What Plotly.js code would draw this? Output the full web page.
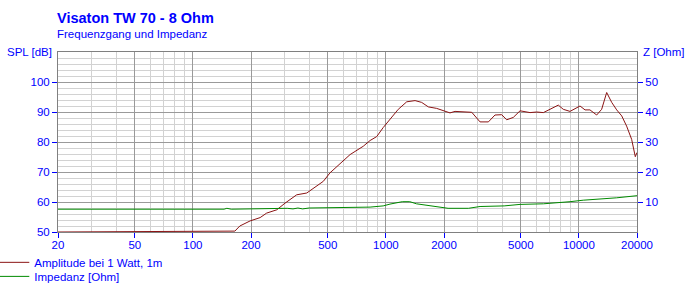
<!DOCTYPE html>
<html><head><meta charset="utf-8">
<script src="https://cdn.plot.ly/plotly-3.0.1.min.js"></script>
<style>html,body{margin:0;padding:0;background:#fff;}#chart{width:687px;height:285px;}</style>
</head><body><div id="chart"></div>
<script>
const freqSPL = [20,165,175,198,223,241,272,300,345,389,474,513,652,764,828,896,968,1050,1159,1282,1416,1532,1659,1833,2024,2148,2281,2623,2785,3075,3397,3675,3981,4225,4573,4955,5259,5583,6040,6545,7083,7820,8300,8991,10136,10760,11410,12360,13120,13930,14790,15700,16670,17670,18760,19600,20000];
const splDb = [50,50.3,52,53.7,54.8,56.3,57.4,59.6,62.4,63,66.9,69.7,75.8,78.6,80.5,81.8,84.8,87.6,90.9,93.4,93.8,93.2,91.7,91.2,90.2,89.7,90.2,90.1,89.9,86.7,86.7,89.0,89.1,87.4,88.2,90.4,90.2,89.8,90.0,89.8,90.9,92.3,90.9,90.2,92.0,90.7,90.7,89.0,90.9,96.5,93.2,90.7,88.7,85.3,80.9,75.1,76.5];
const freqImp = [20,145,150,158,308,330,350,370,400,766,828,968,1050,1216,1330,1440,1620,1833,2100,2680,3075,4100,4955,6545,7680,8991,10530,13430,15700,20000];
const impOhm = [7.6,7.6,7.9,7.6,7.9,7.7,8.0,7.7,8.0,8.2,8.3,8.7,9.3,10.1,10.1,9.4,9.0,8.4,7.9,7.9,8.5,8.7,9.2,9.4,9.7,10.1,10.6,11.0,11.4,12.1];
const xTicks = [20,50,100,200,500,1000,2000,5000,10000,20000];
const xMinor = [30,40,60,70,80,90,300,400,600,700,800,900,3000,4000,6000,7000,8000,9000];
const yTicksL = [50,60,70,80,90,100];
const yTicksR = [10,20,30,40,50];
const seriesNames = ["Amplitude bei 1 Watt, 1m","Impedanz [Ohm]"];
const titleText = "Visaton TW 70 - 8 Ohm";
const subtitleText = "Frequenzgang und Impedanz";

const F = "Liberation Sans, Arial, sans-serif";
const BLUE = "#0000ff";
const lg = x => Math.log10(x);

const traces = [
  {x: freqSPL, y: splDb, name: seriesNames[0], type: "scatter", mode: "lines",
   line: {color: "#8b1414", width: 1}, yaxis: "y", legend: "legend"},
  {x: freqImp, y: impOhm, name: seriesNames[1], type: "scatter", mode: "lines",
   line: {color: "#008a00", width: 1}, yaxis: "y2", legend: "legend2"}
];

const legStyle = {xanchor: "left", yanchor: "top", font: {family: F, size: 11.5, color: BLUE},
                  bgcolor: "rgba(0,0,0,0)", itemwidth: 30};

const layout = {
  width: 687, height: 285,
  margin: {l: 58, r: 50, t: 52, b: 53, autoexpand: false},
  paper_bgcolor: "#fff", plot_bgcolor: "#fff",
  font: {family: F, size: 11.5, color: BLUE},
  showlegend: true,
  legend: Object.assign({x: -0.11, y: -0.088}, legStyle),
  legend2: Object.assign({x: -0.11, y: -0.166}, legStyle),
  xaxis: {type: "log", range: [lg(20), lg(20000)], tickmode: "array",
          tickvals: xTicks, ticktext: xTicks.map(String),
          showgrid: true, gridcolor: "#9a9a9a", gridwidth: 1,
          ticks: "outside", ticklen: 5, tickcolor: BLUE, ticklabelstandoff: -3,
          showline: true, linecolor: "#808080", mirror: true, zeroline: false,
          tickfont: {family: F, size: 11.5, color: BLUE},
          minor: {tickvals: xMinor, showgrid: true, gridcolor: "#d2d2d2", ticks: ""}},
  yaxis: {range: [50, 110], tickmode: "array", tickvals: yTicksL,
          showgrid: true, gridcolor: "#9a9a9a",
          ticks: "outside", ticklen: 5, tickcolor: BLUE,
          showline: true, linecolor: "#808080", mirror: true, zeroline: false,
          tickfont: {family: F, size: 11.5, color: BLUE},
          minor: {dtick: 2, showgrid: true, gridcolor: "#d2d2d2", ticks: ""}},
  yaxis2: {range: [0, 60], overlaying: "y", side: "right", tickmode: "array",
           tickvals: yTicksR, showgrid: false, zeroline: false,
           ticks: "outside", ticklen: 5, tickcolor: BLUE,
           showline: true, linecolor: "#808080",
           tickfont: {family: F, size: 11.5, color: BLUE}},
  annotations: [
    {text: "<b>" + titleText + "</b>", xref: "paper", yref: "paper", x: 0, y: 1.19,
     xanchor: "left", yanchor: "middle", showarrow: false, xshift: -3,
     font: {family: F, size: 14.5, color: BLUE}},
    {text: subtitleText, xref: "paper", yref: "paper", x: 0, y: 1.1,
     xanchor: "left", yanchor: "middle", showarrow: false, xshift: -3,
     font: {family: F, size: 11.5, color: BLUE}},
    {text: "SPL [dB]", xref: "paper", yref: "paper", x: 0, y: 1.0,
     xanchor: "right", yanchor: "middle", showarrow: false, xshift: -4,
     font: {family: F, size: 11.5, color: BLUE}},
    {text: "Z [Ohm]", xref: "paper", yref: "paper", x: 1, y: 1.0,
     xanchor: "left", yanchor: "middle", showarrow: false, xshift: 4,
     font: {family: F, size: 11.5, color: BLUE}}
  ]
};

Plotly.newPlot("chart", traces, layout, {displayModeBar: false, staticPlot: true});
</script>
</body></html>
